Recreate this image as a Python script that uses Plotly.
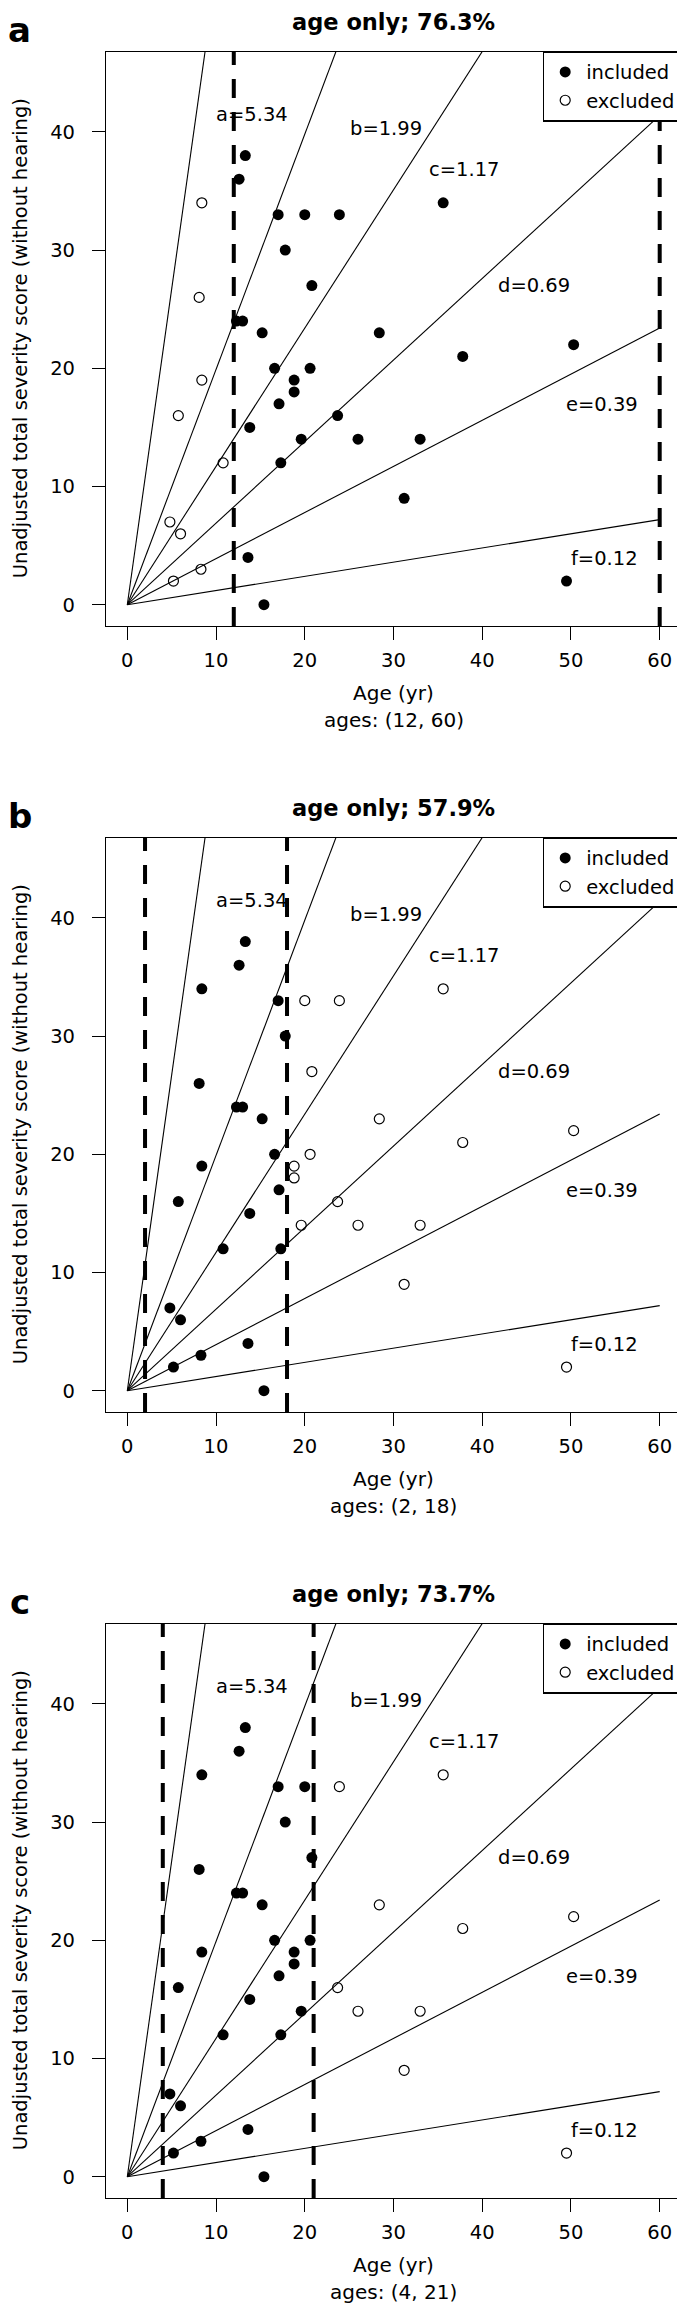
import plotly.graph_objects as go

# --- data ---
age = [13.3, 12.6, 8.4, 17.0, 20.0, 23.9, 35.6, 17.8, 20.8, 8.1, 12.3, 13.0, 15.2,
       28.4, 50.3, 37.8, 16.6, 20.6, 8.4, 18.8, 18.8, 17.1, 5.75, 23.7, 13.8, 19.6,
       26.0, 33.0, 10.8, 17.3, 31.2, 4.8, 6.0, 13.6, 8.3, 5.2, 49.5, 15.4]
score = [38, 36, 34, 33, 33, 33, 34, 30, 27, 26, 24, 24, 23,
         23, 22, 21, 20, 20, 19, 19, 18, 17, 16, 16, 15, 14,
         14, 14, 12, 12, 9, 7, 6, 4, 3, 2, 2, 0]

slope_names = ["a", "b", "c", "d", "e", "f"]
slopes = [5.34, 1.99, 1.17, 0.69, 0.39, 0.12]
label_x = [14.0, 29.1, 37.9, 45.8, 53.5, 53.8]
label_y = [41.5, 40.3, 36.8, 27.0, 16.9, 3.9]

panel_letters = ["a", "b", "c"]
panel_pct = ["76.3%", "57.9%", "73.7%"]
age_lo = [12, 2, 4]
age_hi = [60, 18, 21]

# --- layout geometry (pixels); the page body adds an 8px margin ---
PAGE_OFF = 8
W, H = 685 - PAGE_OFF, 2309 - PAGE_OFF
plot_left, plot_right = 106 - PAGE_OFF, 681 - PAGE_OFF
plot_tops = [t - PAGE_OFF for t in (51.5, 837.5, 1623.5)]
plot_h = 574.5
FONT = "DejaVu Sans"
FS = 19.5

fig = go.Figure()
annotations = []
shapes = []

for i in range(3):
    n = "" if i == 0 else str(i + 1)
    xa, ya = "x" + n, "y" + n
    leg = "legend" + n
    lo, hi = age_lo[i], age_hi[i]

    inc = [lo <= a <= hi for a in age]
    xi = [a for a, k in zip(age, inc) if k]
    yi = [s for s, k in zip(score, inc) if k]
    xe = [a for a, k in zip(age, inc) if not k]
    ye = [s for s, k in zip(score, inc) if not k]

    # rays through the origin
    for s in slopes:
        fig.add_trace(go.Scatter(x=[0, 60], y=[0, 60 * s], mode="lines",
                                 line=dict(color="black", width=1.1),
                                 xaxis=xa, yaxis=ya, showlegend=False, hoverinfo="skip"))

    fig.add_trace(go.Scatter(x=xi, y=yi, mode="markers", name="included",
                             marker=dict(symbol="circle", size=11, color="black"),
                             xaxis=xa, yaxis=ya, legend=leg))
    fig.add_trace(go.Scatter(x=xe, y=ye, mode="markers", name="excluded",
                             marker=dict(symbol="circle-open", size=10, color="black",
                                         line=dict(width=1.2, color="black")),
                             xaxis=xa, yaxis=ya, legend=leg))

    for lim in (lo, hi):
        shapes.append(dict(type="line", xref=xa, yref=ya + " domain", x0=lim, x1=lim,
                           y0=0, y1=1, line=dict(color="black", width=4, dash="19px,14px")))

    for nm, sl, lx, ly in zip(slope_names, slopes, label_x, label_y):
        annotations.append(dict(text=f"{nm}={sl:.2f}", x=lx, y=ly, xref=xa, yref=ya,
                                showarrow=False, font=dict(family=FONT, size=FS, color="black")))

    top = plot_tops[i]
    dom = [1 - (top + plot_h) / H, 1 - top / H]
    axis_common = dict(showline=True, mirror=True, linecolor="black", linewidth=1.2,
                       ticks="outside", ticklen=13, tickwidth=1.2, tickcolor="black",
                       showgrid=False, zeroline=False, automargin=False,
                       tickfont=dict(family=FONT, size=FS, color="black"))
    fig.update_layout({
        "xaxis" + n: dict(domain=[plot_left / W, plot_right / W], anchor=ya,
                          range=[-2.4, 62.4], tickvals=[0, 10, 20, 30, 40, 50, 60],
                          ticklabelstandoff=3, **axis_common),
        "yaxis" + n: dict(domain=dom, anchor=xa, range=[-1.8, 46.8],
                          tickvals=[0, 10, 20, 30, 40], ticklabelstandoff=13, **axis_common),
        leg: dict(x=plot_right / W, xanchor="right", xref="paper",
                  y=dom[1], yanchor="top", yref="paper", itemwidth=32,
                  bgcolor="white", bordercolor="black", borderwidth=1.2,
                  font=dict(family=FONT, size=FS, color="black")),
    })

    xd, yd = xa + " domain", ya + " domain"
    annotations += [
        dict(text=f"age only; {panel_pct[i]}", xref=xd, yref=yd, x=0.5, y=1, yshift=29.5,
             yanchor="middle", showarrow=False,
             font=dict(family=FONT, size=22.5, color="black", weight="bold")),
        dict(text=panel_letters[i], xref=xd, yref=yd, x=0, xshift=-86.5, y=1, yshift=21.5,
             xanchor="center", yanchor="middle", showarrow=False,
             font=dict(family=FONT, size=34, color="black", weight="bold")),
        dict(text="Age (yr)", xref=xd, yref=yd, x=0.5, y=0, yshift=-67,
             yanchor="middle", showarrow=False,
             font=dict(family=FONT, size=20, color="black")),
        dict(text=f"ages: ({lo}, {hi})", xref=xd, yref=yd, x=0.5, y=0, yshift=-94,
             yanchor="middle", showarrow=False,
             font=dict(family=FONT, size=20, color="black")),
        dict(text="Unadjusted total severity score (without hearing)", xref=xd, yref=yd,
             x=0, xshift=-85.5, y=0.5, textangle=-90, xanchor="center", yanchor="middle",
             showarrow=False, font=dict(family=FONT, size=FS, color="black")),
    ]

fig.update_layout(width=W, height=H, margin=dict(l=0, r=0, t=0, b=0),
                  plot_bgcolor="white", paper_bgcolor="white",
                  annotations=annotations, shapes=shapes)

fig.write_html("out.html")
